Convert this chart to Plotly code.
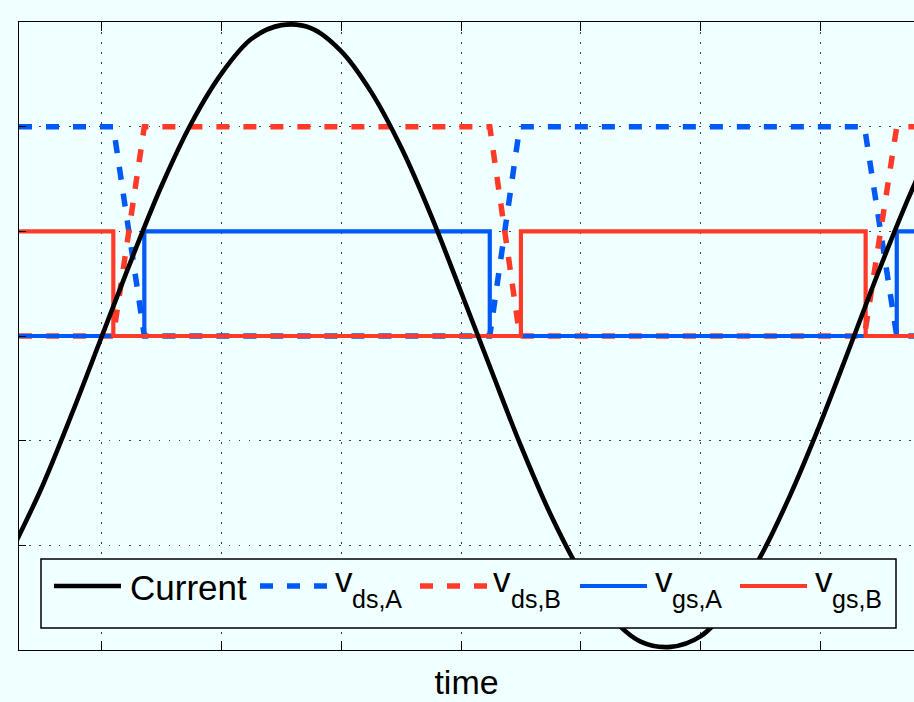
import plotly.graph_objects as go

# ---------------- data ----------------
# current waveform samples (time in axis units, amplitude in axis units)
t_current = [-0.75, -0.5, -0.25, 0.0, 0.25, 0.5, 0.75, 1.0, 1.25, 1.5, 1.75, 2.0,
             2.25, 2.5, 2.75, 3.0, 3.25, 3.5, 3.75, 4.0, 4.25, 4.5, 4.75, 5.0,
             5.25, 5.5, 5.75, 6.0, 6.25, 6.5, 6.75, 7.0]
i_current = [-2.04, -1.44, -0.74, 0.0, 0.74, 1.44, 2.04, 2.51, 2.84, 2.97, 2.94, 2.72,
             2.33, 1.80, 1.15, 0.42, -0.32, -1.05, -1.71, -2.26, -2.68, -2.92, -2.97, -2.87,
             -2.57, -2.11, -1.52, -0.84, -0.10, 0.65, 1.35, 1.97]

# drain-source voltages (piecewise linear)
t_vds = [-0.693, 0.095, 0.354, 3.24, 3.49, 6.37, 6.64, 6.784]
vds_a = [2, 2, 0, 0, 2, 2, 0, 0]
vds_b = [0, 0, 2, 2, 0, 0, 2, 2]

# gate-source voltages (steps)
t_vgs_a = [-0.693, 0.354, 0.354, 3.24, 3.24, 6.64, 6.64, 6.784]
vgs_a = [0, 0, 1, 1, 0, 0, 1, 1]
t_vgs_b = [-0.693, 0.095, 0.095, 3.50, 3.50, 6.38, 6.38, 6.784]
vgs_b = [1, 1, 0, 0, 1, 1, 0, 0]

x_ticks = [0, 1, 2, 3, 4, 5, 6]
y_ticks = [-2, -1, 0, 1, 2]
x_range = [-0.693, 6.784]
y_range = [-3, 3]

names = ["Current", "ds,A", "ds,B", "gs,A", "gs,B"]

# ---------------- style ----------------
BG = "#f0ffff"
BLUE = "rgb(0,88,245)"
RED = "rgb(255,58,40)"
DASH = "13px,14px"
FONT = "Liberation Sans, Arial, Helvetica, sans-serif"

fig = go.Figure()
fig.add_trace(go.Scatter(x=t_vds, y=vds_a, mode="lines", name="v_ds,A",
                         line=dict(color=BLUE, width=5.5, dash=DASH), showlegend=False))
fig.add_trace(go.Scatter(x=t_vds, y=vds_b, mode="lines", name="v_ds,B",
                         line=dict(color=RED, width=5.5, dash=DASH), showlegend=False))
fig.add_trace(go.Scatter(x=t_vgs_a, y=vgs_a, mode="lines", name="v_gs,A",
                         line=dict(color=BLUE, width=4.2), showlegend=False))
fig.add_trace(go.Scatter(x=t_vgs_b, y=vgs_b, mode="lines", name="v_gs,B",
                         line=dict(color=RED, width=4.2), showlegend=False))
fig.add_trace(go.Scatter(x=t_current, y=i_current, mode="lines", name="Current",
                         line=dict(color="black", width=4.6, shape="spline", smoothing=1),
                         showlegend=False))

# ---------------- manual legend (pixel layout -> paper coords) ----------------
PX0, PX1, PY0, PY1 = 19, 914, 22, 650


def fx(px):
    return (px - PX0) / (PX1 - PX0)


def fy(py):
    return (PY1 - py) / (PY1 - PY0)


shapes = [dict(type="rect", xref="paper", yref="paper",
               x0=fx(41), x1=fx(896), y0=fy(628), y1=fy(559),
               line=dict(color="black", width=1.5), fillcolor=BG, layer="above")]
samples = [("black", "solid", 4.6, 54, 121),
           (BLUE, DASH, 5.5, 260, 327),
           (RED, DASH, 5.5, 420, 487),
           (BLUE, "solid", 4.2, 580, 647),
           (RED, "solid", 4.2, 740, 807)]
LEG_Y = 586
for col, dsh, w, a, b in samples:
    shapes.append(dict(type="line", xref="paper", yref="paper",
                       x0=fx(a), x1=fx(b), y0=fy(LEG_Y), y1=fy(LEG_Y),
                       line=dict(color=col, width=w, dash=dsh), layer="above"))

annotations = []


def add_text(txt, left, baseline, size):
    annotations.append(dict(text=txt, xref="paper", yref="paper", showarrow=False,
                            xanchor="left", yanchor="middle", borderpad=0,
                            x=fx(left - 1), y=fy(baseline - 0.3465 * size),
                            font=dict(family=FONT, size=size, color="black")))


add_text(names[0], 130, 600, 35)
for v_left, sub_left, label in [(335, 352, names[1]), (493, 511, names[2]),
                                (655, 672, names[3]), (815, 832, names[4])]:
    add_text("v", v_left, 592, 35)
    add_text(label, sub_left, 608, 25)

fig.update_layout(
    width=914, height=702,
    margin=dict(l=PX0, r=0, t=PY0, b=702 - PY1),
    paper_bgcolor=BG, plot_bgcolor=BG,
    font=dict(family=FONT, color="black"),
    shapes=shapes, annotations=annotations,
    showlegend=False,
)
fig.update_xaxes(range=x_range, tickvals=x_ticks, showticklabels=False,
                 showgrid=True, gridcolor="#444", griddash="1.5px,8.5px", gridwidth=1,
                 zeroline=False, showline=True, linecolor="black", linewidth=1,
                 mirror="ticks", ticks="inside", ticklen=9, tickcolor="black",
                 title=dict(text="time", font=dict(size=34, family=FONT), standoff=20))
fig.update_yaxes(range=y_range, tickvals=y_ticks, showticklabels=False,
                 showgrid=True, gridcolor="#444", griddash="1.5px,8.5px", gridwidth=1,
                 zeroline=False, showline=True, linecolor="black", linewidth=1,
                 ticks="inside", ticklen=7, tickcolor="black")

fig.write_html("out.html")
